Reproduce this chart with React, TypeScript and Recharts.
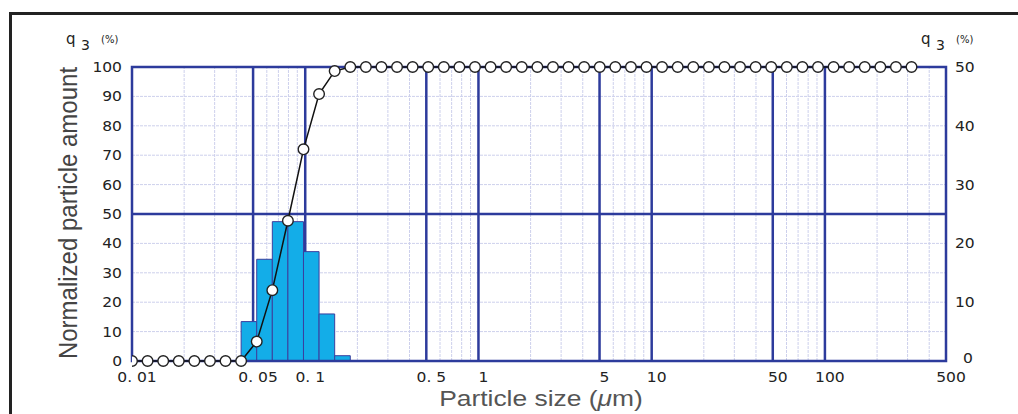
import React from "react";
import { ComposedChart, Line, XAxis, YAxis, ReferenceLine, ReferenceArea } from "recharts";

// particle size channels (µm)
const sizes = [
  0.01, 0.0123, 0.01514, 0.01862, 0.02291, 0.02818, 0.03467, 0.04266, 0.05248, 0.06457,
  0.07943, 0.09772, 0.1202, 0.1479, 0.182, 0.2239, 0.2754, 0.3388, 0.4169, 0.5129,
  0.631, 0.7762, 0.955, 1.175, 1.445, 1.778, 2.188, 2.692, 3.311, 4.074,
  5.012, 6.166, 7.586, 9.333, 11.48, 14.13, 17.38, 21.38, 26.3, 32.36,
  39.81, 48.98, 60.26, 74.13, 91.2, 112.2, 138.0, 169.8, 208.9, 257.0, 316.2,
];

// cumulative Q3 (%), left axis
const cumulative = [
  0, 0, 0, 0, 0, 0, 0, 0, 6.6, 24.1,
  47.7, 72.0, 90.8, 98.6, 100, 100, 100, 100, 100, 100,
  100, 100, 100, 100, 100, 100, 100, 100, 100, 100,
  100, 100, 100, 100, 100, 100, 100, 100, 100, 100,
  100, 100, 100, 100, 100, 100, 100, 100, 100, 100, 100,
];

// histogram q3 (%), right axis
const binEdges = [0.04266, 0.05248, 0.06457, 0.07943, 0.09772, 0.1202, 0.1479, 0.182];
const frequency = [6.7, 17.3, 23.7, 23.7, 18.6, 8.0, 0.9];

const xTicks = [0.01, 0.05, 0.1, 0.5, 1, 5, 10, 50, 100, 500];
const xTickLabels = ["0. 01", "0. 05", "0. 1", "0. 5", "1", "5", "10", "50", "100", "500"];
const leftTicks = [0, 10, 20, 30, 40, 50, 60, 70, 80, 90, 100];
const rightTicks = [0, 10, 20, 30, 40, 50];

const majorX = [0.05, 0.1, 0.5, 1, 5, 10, 50, 100];
const minorX = [
  0.02, 0.03, 0.04, 0.06, 0.07, 0.08, 0.09, 0.2, 0.3, 0.4, 0.6, 0.7, 0.8, 0.9,
  2, 3, 4, 6, 7, 8, 9, 20, 30, 40, 60, 70, 80, 90, 200, 300, 400,
];
const minorY = [10, 20, 30, 40, 60, 70, 80, 90];

const data = sizes.map((s, i) => {
  const b = binEdges.indexOf(s);
  return { size: s, cum: cumulative[i], freq: b >= 0 && b < frequency.length ? frequency[b] : 0 };
});

const BLUE = "#2d3b9c";
const LIGHT = "#cdd0ec";
const TICK_FONT = "'DejaVu Sans', sans-serif";

const XTick = (props: any) => {
  const { x, y, payload } = props;
  const i = xTicks.indexOf(payload.value);
  return (
    <text transform={`translate(${x + 5},${y + 21}) scale(1.15,1)`} textAnchor="middle"
      fontSize={13.5} fontFamily={TICK_FONT} fill="#222">
      {xTickLabels[i]}
    </text>
  );
};

const LeftTick = (props: any) => {
  const { x, y, payload } = props;
  return (
    <text transform={`translate(${x - 10},${y + 5}) scale(1.15,1)`} textAnchor="end"
      fontSize={13.5} fontFamily={TICK_FONT} fill="#222">
      {payload.value}
    </text>
  );
};

const RightTick = (props: any) => {
  const { x, y, payload } = props;
  const zero = payload.value === 0;
  return (
    <text transform={`translate(${x + (zero ? 17 : 9)},${y + (zero ? 2 : 5)}) scale(1.15,1)`} textAnchor="start"
      fontSize={13.5} fontFamily={TICK_FONT} fill="#222">
      {payload.value}
    </text>
  );
};

const headStyle: React.CSSProperties = {
  position: "absolute", fontFamily: TICK_FONT, color: "#222", whiteSpace: "nowrap",
};

const Header = ({ left }: { left: number }) => (
  <>
    <div style={{ ...headStyle, left, top: 30, fontSize: 15 }}>q</div>
    <div style={{ ...headStyle, left: left + 15, top: 37, fontSize: 14 }}>3</div>
    <div style={{ ...headStyle, left: left + 35, top: 34, fontSize: 10 }}>(%)</div>
  </>
);

export default function App() {
  return (
    <div style={{ position: "absolute", left: 0, top: 0, width: 1018, height: 414, background: "#fff", overflow: "hidden" }}>
      <div style={{ position: "absolute", left: 9, top: 12, width: 1030, height: 430, borderTop: "3px solid #222", borderLeft: "3px solid #222" }} />
      <Header left={66} />
      <Header left={921} />
      <div style={{
        position: "absolute", left: 68, top: 213, fontFamily: "'Liberation Sans', Arial, sans-serif",
        fontSize: 24, color: "#444", whiteSpace: "nowrap",
        transform: "translate(-50%, -50%) rotate(-90deg) scaleY(1.1)",
      }}>
        Normalized particle amount
      </div>
      <div style={{
        position: "absolute", left: 541, top: 399, fontFamily: "'Liberation Sans', Arial, sans-serif",
        fontSize: 22, color: "#555", whiteSpace: "nowrap",
        transform: "translate(-50%, -50%) scaleX(1.2)",
      }}>
        Particle size (<i>μ</i>m)
      </div>
      <div style={{ position: "absolute", left: 0, top: 0 }}>
        <ComposedChart width={1018} height={414} data={data} margin={{ top: 67, right: 0, bottom: 0, left: 0 }}>
          <XAxis dataKey="size" type="number" scale="log" domain={[0.01, 500]} allowDataOverflow
            ticks={xTicks} interval={0} height={53} axisLine={false} tickLine={false}
            tickSize={0} tickMargin={0} tick={<XTick />} />
          <YAxis yAxisId="left" domain={[0, 100]} ticks={leftTicks} interval={0} width={132}
            axisLine={false} tickLine={false} tickSize={0} tickMargin={0} tick={<LeftTick />} />
          <YAxis yAxisId="right" orientation="right" domain={[0, 50]} ticks={rightTicks} interval={0} width={72}
            axisLine={false} tickLine={false} tickSize={0} tickMargin={0} tick={<RightTick />} />

          {/* keeps the right axis bound to a series */}
          <Line yAxisId="right" dataKey="freq" stroke="none" dot={false} activeDot={false}
            isAnimationActive={false} />

          {minorX.map((v) => (
            <ReferenceLine key={`mx${v}`} x={v} yAxisId="left" stroke={LIGHT} strokeWidth={1}
              strokeDasharray="3 1" zIndex={10} />
          ))}
          {minorY.map((v) => (
            <ReferenceLine key={`my${v}`} y={v} yAxisId="left" stroke={LIGHT} strokeWidth={1}
              strokeDasharray="3 1" zIndex={10} />
          ))}
          {majorX.map((v) => (
            <ReferenceLine key={`Mx${v}`} x={v} yAxisId="left" stroke={BLUE} strokeWidth={2.5} zIndex={20} />
          ))}
          <ReferenceLine y={50} yAxisId="left" stroke={BLUE} strokeWidth={2.5} zIndex={20} />

          {frequency.map((f, i) => (
            <ReferenceArea key={`b${i}`} x1={binEdges[i]} x2={binEdges[i + 1]} y1={0} y2={f}
              yAxisId="right" fill="#13ade8" fillOpacity={1} stroke="#3b3f9e" strokeWidth={1}
              ifOverflow="visible" zIndex={30} />
          ))}

          <ReferenceArea x1={0.01} x2={500} y1={0} y2={100} yAxisId="left" fill="none"
            stroke={BLUE} strokeWidth={2.5} ifOverflow="visible" zIndex={40} />

          <Line yAxisId="left" dataKey="cum" type="linear" stroke="#111" strokeWidth={1.5}
            dot={{ r: 5.3, fill: "#fff", stroke: "#222", strokeWidth: 1.4 }} activeDot={false}
            isAnimationActive={false} zIndex={50} />
        </ComposedChart>
      </div>
    </div>
  );
}
